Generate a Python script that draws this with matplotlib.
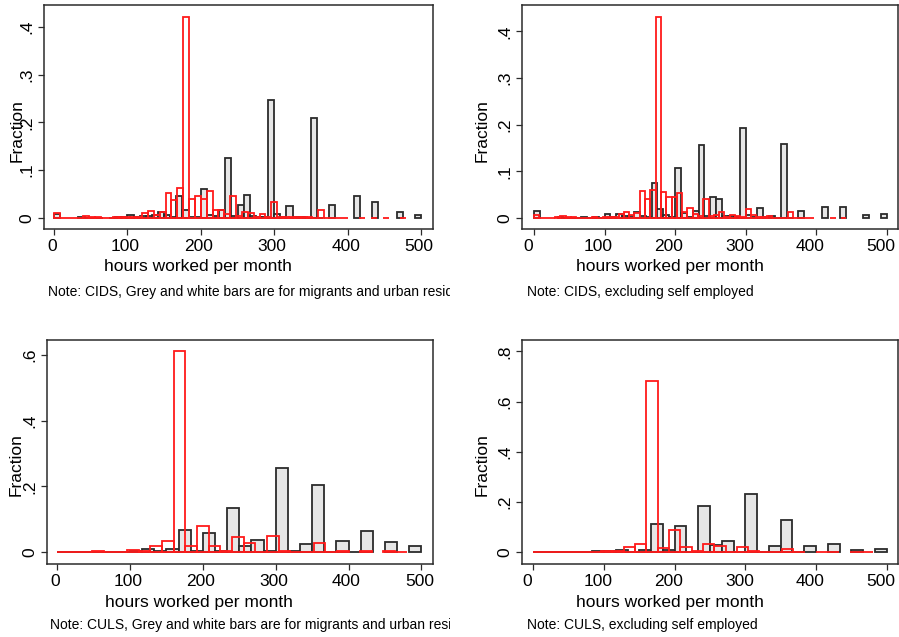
import numpy as np
import matplotlib
matplotlib.use("Agg")
import matplotlib.pyplot as plt
from matplotlib.transforms import Bbox, TransformedBbox, ScaledTranslation

plt.rcParams["font.family"] = ["Liberation Sans", "DejaVu Sans"]

# ---- histogram fractions (one value per bin) ----
# CIDS, all workers
cids_grey = [0.009, 0, 0, 0, 0.002, 0.001, 0.001, 0.001, 0, 0.001,
             0.003, 0.002, 0.007, 0.002, 0.005, 0.004, 0.006, 0.013, 0.006, 0.003,
             0.045, 0.016, 0.003, 0.002, 0.061, 0.006, 0.004, 0.016, 0.126, 0.005,
             0.028, 0.048, 0.004, 0.002, 0.002, 0.247, 0.008, 0.002, 0.026, 0.002,
             0.002, 0.001, 0.210, 0.001, 0, 0.028, 0, 0, 0, 0.047,
             0, 0, 0.033, 0, 0, 0, 0.013, 0, 0, 0.006]
cids_red = [0.011, 0.001, 0.001, 0.001, 0.001, 0.004, 0.003, 0.002, 0.001, 0.001,
            0.002, 0.003, 0.002, 0.002, 0.003, 0.010, 0.014, 0.006, 0.013, 0.052,
            0.038, 0.062, 0.420, 0.040, 0.047, 0.040, 0.056, 0.016, 0.017, 0.008,
            0.046, 0.004, 0.012, 0.010, 0.003, 0.008, 0.003, 0.034, 0.002, 0.002,
            0.003, 0.002, 0.003, 0.002, 0.001, 0.017, 0.001, 0.001, 0.001, 0.001,
            0, 0, 0.001, 0, 0.001, 0, 0.001, 0, 0, 0.001]

# CIDS, excluding self employed
cids_ns_grey = [0.015, 0, 0, 0, 0.003, 0.001, 0.001, 0.001, 0.002, 0.001,
                0.002, 0.001, 0.009, 0.002, 0.008, 0.004, 0.005, 0.012, 0.005, 0.003,
                0.074, 0.020, 0.006, 0.002, 0.108, 0.010, 0.003, 0.014, 0.156, 0.004,
                0.044, 0.041, 0.005, 0.004, 0.002, 0.193, 0.006, 0.002, 0.022, 0.002,
                0.004, 0.001, 0.159, 0.001, 0, 0.014, 0, 0, 0, 0.024,
                0, 0, 0.024, 0, 0, 0, 0.006, 0, 0, 0.009]
cids_ns_red = [0.006, 0.001, 0.001, 0.001, 0.002, 0.004, 0.002, 0.002, 0.001, 0.001,
               0.001, 0.002, 0.001, 0.002, 0.003, 0.003, 0.009, 0.012, 0.006, 0.010,
               0.058, 0.040, 0.060, 0.430, 0.056, 0.044, 0.044, 0.054, 0.013, 0.021,
               0.009, 0.005, 0.040, 0.004, 0.007, 0.012, 0.003, 0.007, 0.005, 0.002,
               0.020, 0.006, 0.003, 0.002, 0.005, 0.001, 0.001, 0.001, 0.013, 0.001,
               0.001, 0.001, 0.001, 0, 0, 0, 0.001, 0, 0.001, 0]

# CULS, all workers
culs_grey = [0.001, 0.001, 0.002, 0.001, 0.002, 0.002, 0.005, 0.010, 0.003, 0.010,
             0.068, 0.005, 0.059, 0.003, 0.136, 0.019, 0.038, 0.003, 0.256, 0.003,
             0.026, 0.203, 0.001, 0.034, 0.001, 0.065, 0, 0.030, 0, 0.020]
culs_red = [0.002, 0.001, 0.002, 0.004, 0.002, 0.002, 0.006, 0.005, 0.020, 0.033,
            0.610, 0.020, 0.081, 0.020, 0.005, 0.045, 0.027, 0.002, 0.050, 0.004,
            0.002, 0.001, 0.029, 0.001, 0.003, 0, 0.004, 0, 0.004, 0.001]

# CULS, excluding self employed
culs_ns_grey = [0.001, 0.001, 0.001, 0.002, 0.002, 0.007, 0.006, 0.008, 0.003, 0.008,
                0.114, 0.008, 0.105, 0.003, 0.186, 0.029, 0.044, 0.002, 0.233, 0.002,
                0.027, 0.127, 0.001, 0.027, 0, 0.033, 0, 0.011, 0, 0.013]
culs_ns_red = [0.003, 0.001, 0.001, 0.003, 0.002, 0.002, 0.004, 0.006, 0.021, 0.033,
               0.680, 0.016, 0.089, 0.021, 0.006, 0.034, 0.024, 0.002, 0.021, 0.004,
               0.002, 0.002, 0.012, 0.001, 0, 0.001, 0.001, 0, 0.001, 0.001]

# value range covered by each histogram (hours per month)
grey_range = (0, 500)
red_range_cids = (0, 480)
red_range_cids_ns = (0, 450)
red_range_culs = (0, 480)

x_ticks = [0, 100, 200, 300, 400, 500]
y_ticks_top = [0, 0.1, 0.2, 0.3, 0.4]
y_ticklabels_top = ["0", ".1", ".2", ".3", ".4"]
y_ticks_culs = [0, 0.2, 0.4, 0.6]
y_ticklabels_culs = ["0", ".2", ".4", ".6"]
y_ticks_culs_ns = [0, 0.2, 0.4, 0.6, 0.8]
y_ticklabels_culs_ns = ["0", ".2", ".4", ".6", ".8"]

notes = ["Note: CIDS, Grey and white bars are for migrants and urban residents",
         "Note: CIDS, excluding self employed",
         "Note: CULS, Grey and white bars are for migrants and urban residents",
         "Note: CULS, excluding self employed"]

W, H = 899, 637
fig = plt.figure(figsize=(W / 100, H / 100), dpi=100)
fig.patch.set_facecolor("white")

FRAME = "#2b2b2b"
GREY_FILL = "#e6e6e6"
RED = "#ff1a1a"


def px_rect(x0, y0, x1, y1):
    return [x0 / W, 1 - y1 / H, (x1 - x0) / W, (y1 - y0) / H]


def draw_hist(ax, values, rng, **style):
    vals = np.asarray(values, dtype=float)
    edges = np.linspace(rng[0], rng[1], len(vals) + 1)
    keep = vals > 0
    ax.bar(edges[:-1][keep], vals[keep], width=np.diff(edges)[keep],
           align="edge", **style)


panels = [
    dict(rect=(44, 5, 433, 229), xlim=(-13.6, 516.3), ylim=(-0.023, 0.4454),
         grey=cids_grey, red=cids_red, red_rng=red_range_cids,
         yt=y_ticks_top, ytl=y_ticklabels_top, xshift=-2,
         ylab=(17, 131), xlab=(197.5, 267), note=(48, 292), clip=(0, 450)),
    dict(rect=(522, 5, 898, 229), xlim=(-17.0, 516.1), ylim=(-0.0236, 0.4564),
         grey=cids_ns_grey, red=cids_ns_red, red_rng=red_range_cids_ns,
         yt=y_ticks_top, ytl=y_ticklabels_top, xshift=-6,
         ylab=(482, 131), xlab=(669.7, 267), note=(527, 292), clip=(450, 899)),
    dict(rect=(47, 340, 433, 564), xlim=(-14.1, 516.0), ylim=(-0.0355, 0.6447),
         grey=culs_grey, red=culs_red, red_rng=red_range_culs,
         yt=y_ticks_culs, ytl=y_ticklabels_culs, xshift=-2,
         ylab=(16, 465), xlab=(199, 603), note=(50, 625), clip=(0, 450)),
    dict(rect=(522, 340, 898, 564), xlim=(-16.0, 516.0), ylim=(-0.0466, 0.845),
         grey=culs_ns_grey, red=culs_ns_red, red_rng=red_range_culs,
         yt=y_ticks_culs_ns, ytl=y_ticklabels_culs_ns, xshift=-6,
         ylab=(482, 465), xlab=(669.7, 603), note=(527, 625), clip=(450, 899)),
]

for p, note in zip(panels, notes):
    ax = fig.add_axes(px_rect(*p["rect"]))
    draw_hist(ax, p["grey"], grey_range, facecolor=GREY_FILL,
              edgecolor=FRAME, linewidth=1.3, zorder=2)
    draw_hist(ax, p["red"], p["red_rng"], facecolor="none",
              edgecolor=RED, linewidth=1.3, zorder=3)
    ax.set_xlim(*p["xlim"])
    ax.set_ylim(*p["ylim"])
    ax.set_xticks(x_ticks)
    ax.set_yticks(p["yt"], p["ytl"])
    for lbl in ax.get_yticklabels():
        lbl.set_rotation(90)
        lbl.set_va("center")
    ax.tick_params(direction="out", length=4, width=0.9, color=FRAME,
                   labelsize=12.5, pad=3, labelcolor="black")
    ax.tick_params(axis="x", pad=3.5)
    shift = ScaledTranslation(p["xshift"] / 100, 0, fig.dpi_scale_trans)
    for lbl in ax.get_xticklabels():
        lbl.set_transform(lbl.get_transform() + shift)
    for s in ax.spines.values():
        s.set_color(FRAME)
        s.set_linewidth(1.1)

    fig.text(p["ylab"][0] / W, 1 - p["ylab"][1] / H, "Fraction", rotation=90,
             ha="center", va="center", fontsize=12.5)
    fig.text(p["xlab"][0] / W, 1 - p["xlab"][1] / H, "hours worked per month",
             ha="center", va="center", fontsize=12.5)
    t = fig.text(p["note"][0] / W, 1 - p["note"][1] / H, note,
                 ha="left", va="center", fontsize=10)
    cx0, cx1 = p["clip"]
    t.set_clip_box(TransformedBbox(Bbox.from_extents(cx0 / W, 0, cx1 / W, 1),
                                   fig.transFigure))
    t.set_clip_on(True)

fig.savefig("out.png", dpi=100, facecolor="white")
